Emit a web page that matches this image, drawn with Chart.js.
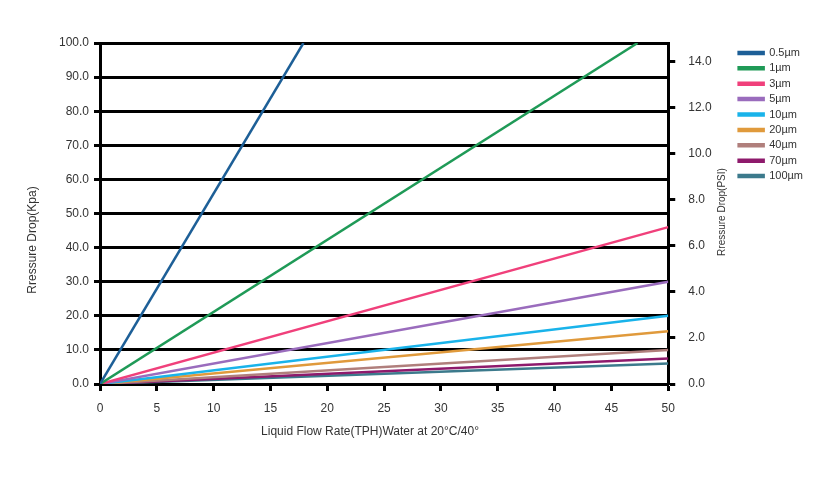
<!DOCTYPE html>
<html>
<head>
<meta charset="utf-8">
<script src="https://cdn.jsdelivr.net/npm/chart.js@4/dist/chart.umd.min.js"></script>
<style>
  html, body { margin: 0; padding: 0; background: #fff; }
  #wrap { width: 823px; height: 477px; }
</style>
</head>
<body>
<div id="wrap"><canvas id="Pressure"></canvas></div>
<script>
var FONT = "'Liberation Sans Narrow', 'Liberation Sans', Arial, sans-serif";

// filter grades and the end point of each straight line (all start at 0,0)
var grades   = ["0.5\u00b5m", "1\u00b5m", "3\u00b5m", "5\u00b5m", "10\u00b5m", "20\u00b5m", "40\u00b5m", "70\u00b5m", "100\u00b5m"];
var endFlow  = [17.9, 47.3, 50, 50, 50, 50, 50, 50, 50];
var endDrop  = [100, 100, 46, 30, 20, 15.5, 10, 7.5, 6];
var colours  = ["#1d5f97", "#1f9a57", "#f0407b", "#9a6cbd", "#19b3ea", "#e09a3c", "#b07f7c", "#8e1a6c", "#3c7a8c"];

var flowTicks = [0, 5, 10, 15, 20, 25, 30, 35, 40, 45, 50];
var psiTicks  = [0, 2, 4, 6, 8, 10, 12, 14];
var kpaMax = 100, psiMax = 14.8;

var sets = [];
for (var i = 0; i < grades.length; i++) {
  sets.push({
    label: grades[i],
    data: [{x: 0, y: 0}, {x: endFlow[i], y: endDrop[i]}],
    borderColor: colours[i],
    backgroundColor: colours[i],
    borderWidth: 2.5,
    pointRadius: 0,
    yAxisID: "y"
  });
}
// dummy set so the psi axis exists
sets.push({ label: "", data: [], yAxisID: "y1", hidden: true });

var titles = {
  id: "titles",
  afterDraw: function(chart) {
    var c = chart.ctx;
    c.save();
    c.fillStyle = "#333";
    c.textAlign = "center";
    c.textBaseline = "middle";
    c.font = "12px " + FONT;
    c.fillText("Liquid Flow Rate(TPH)Water at 20\u00b0C/40\u00b0", 370, 432);
    c.save();
    c.translate(33, 240);
    c.rotate(-Math.PI / 2);
    c.fillText("Rressure Drop(Kpa)", 0, 0);
    c.restore();
    c.translate(722, 212);
    c.rotate(-Math.PI / 2);
    c.font = "10px " + FONT;
    c.fillText("Rressure Drop(PSI)", 0, 0);
    c.restore();
  }
};

var ctx = document.getElementById("Pressure").getContext("2d");
var chart = new Chart(ctx, {
  type: "line",
  data: { datasets: sets },
  plugins: [titles],
  options: {
    responsive: true,
    maintainAspectRatio: false,
    animation: false,
    layout: { padding: { left: 20, right: 10, top: 43, bottom: 33 } },
    plugins: {
      tooltip: { enabled: false },
      legend: {
        position: "right",
        align: "start",
        labels: {
          boxWidth: 25,
          boxHeight: 2,
          padding: 4.4,
          color: "#333",
          font: { family: FONT, size: 11 },
          filter: function(item) { return item.text !== ""; }
        }
      }
    },
    scales: {
      x: {
        type: "linear",
        min: 0, max: 50,
        afterBuildTicks: function(s) { s.ticks = flowTicks.map(function(v) { return {value: v}; }); },
        afterFit: function(s) { s.height = 60; },
        grid: { drawOnChartArea: false, drawTicks: true, tickLength: 7, tickWidth: 3, tickColor: "#000" },
        border: { display: true, color: "#000", width: 3 },
        ticks: { color: "#333", font: { family: FONT, size: 12 }, padding: 10 }
      },
      y: {
        position: "left",
        min: 0, max: kpaMax,
        afterFit: function(s) { s.width = 80; },
        grid: { color: "#000", lineWidth: 3, drawTicks: true, tickLength: 6 },
        border: { display: true, color: "#000", width: 3 },
        ticks: { stepSize: 10, color: "#333", font: { family: FONT, size: 12 }, padding: 5,
                 callback: function(v) { return v.toFixed(1); } }
      },
      y1: {
        position: "right",
        min: 0, max: psiMax,
        afterBuildTicks: function(s) { s.ticks = psiTicks.map(function(v) { return {value: v}; }); },
        afterFit: function(s) { s.width = 66; },
        grid: { drawOnChartArea: false, drawTicks: true, tickLength: 7, tickWidth: 3, tickColor: "#000" },
        border: { display: true, color: "#000", width: 3 },
        ticks: { color: "#333", font: { family: FONT, size: 12 }, padding: 13,
                 callback: function(v) { return v.toFixed(1); } }
      }
    }
  }
});
</script>
</body>
</html>
